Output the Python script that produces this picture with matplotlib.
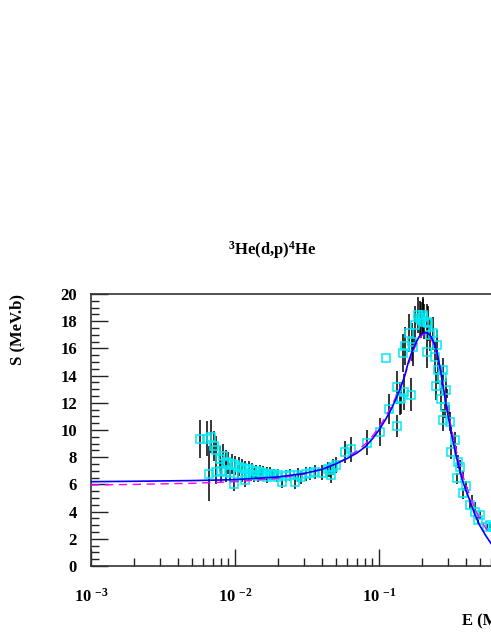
import numpy as np
import matplotlib
matplotlib.use("Agg")
import matplotlib.pyplot as plt
from matplotlib.ticker import MultipleLocator, LogLocator, FuncFormatter, NullFormatter

plt.rcParams['font.family'] = ['Liberation Serif', 'DejaVu Serif']
plt.rcParams['font.weight'] = 'bold'
plt.rcParams['mathtext.fontset'] = 'custom'
plt.rcParams['mathtext.rm'] = 'Liberation Serif:bold'
plt.rcParams['mathtext.it'] = 'Liberation Serif:bold'
plt.rcParams['mathtext.bf'] = 'Liberation Serif:bold'

# data points (open squares + error bars)
e_data = [0.0057, 0.0064, 0.0068, 0.0071, 0.0074, 0.0079, 0.0082, 0.0086, 0.0090, 0.0095,
          0.0100, 0.0106, 0.0112, 0.0118, 0.0125, 0.0132, 0.0140, 0.0148, 0.0157, 0.0166,
          0.0176, 0.0187, 0.0200,
          0.0066, 0.0074, 0.0080, 0.0086, 0.0092, 0.0099, 0.0105, 0.0112, 0.0118, 0.0125,
          0.0135, 0.0145, 0.0155, 0.0166, 0.0180, 0.0195, 0.0212, 0.0225, 0.0241, 0.0262,
          0.0275, 0.0288, 0.0310, 0.0330, 0.0362, 0.0403, 0.0440, 0.0457, 0.0466, 0.0481,
          0.0505, 0.0585, 0.0640, 0.0822, 0.1011, 0.1175, 0.1328, 0.134, 0.141, 0.143,
          0.150, 0.1665, 0.112, 0.146, 0.152, 0.162, 0.169, 0.171, 0.177, 0.187, 0.192,
          0.197, 0.201, 0.203, 0.204, 0.215, 0.215, 0.220, 0.225, 0.238, 0.245, 0.254,
          0.249, 0.258, 0.272, 0.279, 0.279, 0.287, 0.292, 0.271, 0.313, 0.318, 0.336,
          0.354, 0.346, 0.367, 0.381, 0.405, 0.43, 0.464, 0.486, 0.50, 0.56, 0.59, 0.62]
s_data = [9.36, 9.36, 9.50, 8.80, 8.55, 7.90, 8.10, 7.65, 7.60, 7.50,
          7.40, 7.30, 7.20, 7.15, 7.10, 7.00, 6.95, 6.90, 6.85, 6.80,
          6.80, 6.75, 6.70,
          6.80, 6.90, 7.00, 6.90, 6.85, 6.05, 6.80, 6.70, 6.30, 6.75,
          6.70, 6.60, 6.75, 6.57, 6.70, 6.55, 6.18, 6.60, 6.67, 6.18,
          6.70, 6.52, 6.75, 6.81, 6.91, 6.86, 7.10, 7.06, 6.67, 7.30,
          7.45, 8.38, 8.58, 9.07, 9.85, 11.52, 10.29, 13.14, 12.30, 12.35,
          12.80, 12.60, 15.27, 15.64, 16.18, 17.10, 16.50, 16.13, 17.72, 18.46, 18.20,
          18.10, 18.46, 18.30, 17.97, 17.97, 15.76, 17.84, 16.99, 17.10, 15.40, 16.25,
          13.24, 14.40, 13.90, 14.40, 10.74, 11.70, 12.94, 12.30, 10.60, 8.40, 9.26,
          7.67, 6.45, 7.30, 5.34, 5.88, 4.49, 4.00, 3.38, 3.75, 2.89, 3.00, 2.90]
ds_data = [1.4, 1.3, 1.2, 1.1, 1.0, 0.9, 0.9, 0.85, 0.8, 0.75,
           0.7, 0.7, 0.65, 0.6, 0.6, 0.55, 0.5, 0.5, 0.5, 0.45,
           0.45, 0.4, 0.4,
           2.0, 0.9, 0.8, 0.75, 0.7, 0.5, 0.6, 0.55, 0.5, 0.5,
           0.5, 0.45, 0.45, 0.45, 0.4, 0.4, 0.45, 0.45, 0.45, 0.5,
           0.5, 0.5, 0.5, 0.5, 0.5, 0.55, 0.55, 0.55, 0.6, 0.6,
           0.6, 0.8, 0.9, 0.9, 1.0, 1.1, 0.8, 1.2, 1.2, 1.2,
           1.3, 1.2, 0.0, 1.4, 1.4, 1.4, 1.4, 1.4, 1.4, 1.3, 1.3,
           1.3, 1.3, 1.3, 1.3, 1.3, 1.2, 1.3, 1.2, 1.2, 1.1, 1.1,
           1.0, 1.0, 0.9, 0.9, 0.8, 0.8, 0.9, 0.8, 0.7, 0.5, 0.6,
           0.5, 0.4, 0.5, 0.4, 0.4, 0.3, 0.3, 0.3, 0.3, 0.2, 0.2, 0.2]

# error bars without visible markers (tail)
e_bar = [0.295, 0.307, 0.318, 0.342, 0.364, 0.381, 0.41, 0.44, 0.465]
s_bar = [12.7, 11.5, 10.0, 8.53, 7.3, 6.7, 5.6, 5.0, 4.5]
ds_bar = [0.35, 0.35, 0.3, 0.3, 0.25, 0.25, 0.2, 0.2, 0.2]

# fitted curves
e_fit = [0.001, 0.002, 0.005, 0.01, 0.02, 0.03, 0.04, 0.05, 0.06, 0.07, 0.08, 0.09,
         0.10, 0.11, 0.12, 0.13, 0.14, 0.15, 0.16, 0.17, 0.18, 0.19, 0.20, 0.21, 0.22,
         0.23, 0.24, 0.25, 0.26, 0.27, 0.28, 0.29, 0.30, 0.32, 0.34, 0.36, 0.38, 0.40,
         0.43, 0.46, 0.50, 0.55, 0.60, 0.65]
s_solid = [6.20, 6.23, 6.28, 6.35, 6.55, 6.80, 7.10, 7.50, 7.90, 8.30, 8.75, 9.35,
           10.0, 10.7, 11.4, 12.2, 13.0, 13.9, 15.0, 15.8, 16.4, 16.85, 17.1, 17.17, 17.1,
           16.85, 16.45, 15.9, 15.1, 14.1, 13.1, 12.1, 11.2, 9.6, 8.3, 7.2, 6.3, 5.6,
           4.75, 3.85, 3.0, 2.25, 1.65, 1.3]
s_dash = [5.95, 6.00, 6.08, 6.20, 6.45, 6.75, 7.10, 7.50, 7.95, 8.45, 8.95, 9.55,
          10.2, 10.9, 11.6, 12.35, 13.1, 13.9, 14.8, 15.6, 16.25, 16.7, 17.0, 17.1, 17.0,
          16.7, 16.3, 15.75, 15.0, 14.2, 13.3, 12.4, 11.5, 10.0, 8.7, 7.6, 6.7, 6.0,
          5.1, 4.3, 3.5, 2.8, 2.3, 1.95]

fig = plt.figure(figsize=(4.91, 6.35), dpi=100)
ax = fig.add_axes([91/491, 69/635, 432/491, 272/635])

ax.errorbar(e_data, s_data, yerr=ds_data, fmt='none', ecolor='black', elinewidth=1.1, zorder=2)
ax.errorbar(e_bar, s_bar, yerr=ds_bar, fmt='none', ecolor='black', elinewidth=1.1, zorder=2)
ax.plot(e_data, s_data, 's', mfc='none', mec='#00eaf2', ms=6.2, mew=1.1, zorder=3)
ax.plot(e_fit, s_dash, color='#ff00ff', lw=1.0, dashes=(6, 4), zorder=4)
ax.plot(e_fit, s_solid, color='#0000ff', lw=1.2, zorder=5)

ax.set_xscale('log')
ax.set_xlim(1e-3, 1)
ax.set_ylim(0, 20)
ax.yaxis.set_major_locator(MultipleLocator(2))
ax.yaxis.set_minor_locator(MultipleLocator(0.5))
ax.xaxis.set_major_locator(LogLocator(base=10, numticks=10))
ax.xaxis.set_minor_locator(LogLocator(base=10, subs=np.arange(2, 10), numticks=20))
ax.xaxis.set_minor_formatter(NullFormatter())
ax.xaxis.set_major_formatter(FuncFormatter(
    lambda v, p: '10 $^{%d}$' % int(round(np.log10(v))) if v < 0.5 else ''))

ax.tick_params(which='both', direction='in', top=False, right=False, width=1.0, color='#222222')
ax.tick_params(which='major', length=12)
ax.tick_params(which='minor', length=6)
ax.tick_params(axis='y', which='major', labelsize=12, pad=10)
ax.tick_params(axis='x', which='major', labelsize=12, pad=16)
for sp in ax.spines.values():
    sp.set_linewidth(1.2)
    sp.set_color('#333333')

ax.set_xlabel('E (MeV)', fontsize=12, fontweight='bold')
ax.xaxis.set_label_coords(1.0, -0.175)
ax.xaxis.label.set_ha('right')

fig.text(17/491, 1 - 294/635, 'S (MeV.b)', rotation=90, ha='center', va='top',
         fontsize=12, fontweight='bold')
fig.text(272/491, 1 - 250/635, '$^{3}$He(d,p)$^{4}$He', ha='center', va='center',
         fontsize=12, fontweight='bold')

fig.savefig('out.png', dpi=100)
